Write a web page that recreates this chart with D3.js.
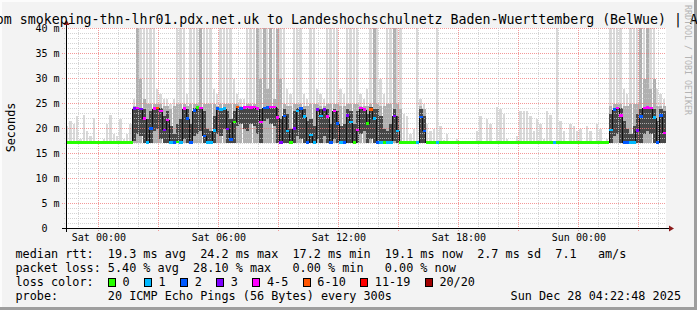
<!DOCTYPE html>
<html><head><meta charset="utf-8">
<script src="https://cdn.jsdelivr.net/npm/d3@7"></script>
<style>
html,body{margin:0;padding:0;background:#f3f3f3;}
svg{display:block;}
text{font-family:"DejaVu Sans Mono",monospace;}
</style></head><body>
<svg id="c" width="697" height="310"></svg>
<script>
// ---------------- DATA ----------------
const titleText = "from smokeping-thn-lhr01.pdx.net.uk to Landeshochschulnetz Baden-Wuerttemberg (BelWue) | AS553";
const startTime = new Date(2025, 11, 26, 22, 22, 48);
const endTime = new Date(2025, 11, 28, 4, 22, 48);
const stepSeconds = 600;
const yTicks = [0, 5, 10, 15, 20, 25, 30, 35, 40];
const minRtt = 17.1;

const median = [
17.2,17.2,17.2,17.2,17.2,17.2,17.2,17.2,17.2,17.2,
17.2,17.2,17.2,17.2,17.2,17.2,17.2,17.2,17.2,17.2,
24.0,24.1,23.9,22.0,17.2,20.0,24.0,24.1,23.5,19.7,
21.7,17.2,17.2,17.3,17.2,24.0,22.0,17.2,23.6,24.2,
24.1,18.5,17.2,17.2,19.6,24.0,23.8,24.0,19.9,17.8,
21.3,24.3,24.0,24.2,24.3,24.2,24.3,24.0,21.3,24.1,
24.2,24.3,24.3,22.2,17.2,22.5,19.5,17.2,20.0,23.5,
24.0,22.4,17.2,18.7,17.2,23.8,22.5,23.8,22.4,17.2,
23.5,21.0,17.2,17.2,22.6,21.3,17.2,19.7,24.1,23.8,
21.0,23.8,22.0,17.2,17.2,17.2,17.2,17.2,22.5,19.5,
17.2,17.2,17.2,17.2,17.2,17.2,22.3,19.5,17.2,17.2,
17.2,17.2,17.2,17.2,17.2,17.2,17.2,17.2,17.2,17.2,
17.2,17.2,17.2,17.2,17.2,17.2,17.2,17.2,17.2,17.2,
17.2,17.2,17.2,17.2,17.2,17.2,17.2,17.2,17.2,17.2,
17.2,17.2,17.2,17.2,17.2,17.2,17.2,17.2,17.2,17.2,
17.2,17.2,17.2,17.2,17.2,17.2,17.2,17.2,17.2,17.2,
17.2,17.2,17.2,19.7,23.8,24.1,22.6,17.2,17.2,17.2,
17.2,19.6,22.4,24.1,24.2,24.1,22.2,17.2,22.6,19.1
];
const lossIndex = [
0,0,0,0,0,0,0,0,0,0,
0,0,0,0,0,0,0,0,0,0,
3,4,3,4,1,2,4,5,4,3,
4,1,2,0,1,4,2,2,2,0,
4,2,1,1,1,2,1,1,3,2,
0,5,2,4,4,4,4,4,4,2,
2,4,4,4,3,2,1,0,3,1,
2,1,2,1,1,3,1,3,4,2,
4,2,1,2,3,1,0,4,4,4,
0,5,1,2,1,0,1,1,3,1,
0,0,0,0,0,1,2,2,0,0,
0,1,0,0,0,0,0,0,0,0,
0,0,0,0,0,0,0,0,0,0,
0,0,0,0,0,0,0,0,0,0,
0,0,0,0,0,0,1,0,0,0,
0,0,0,0,0,0,0,0,0,0,
0,0,0,1,2,4,4,2,2,1,
1,3,2,4,4,4,1,2,2,4
];
const smokeMax = [
20.5,21.5,21.0,22.5,18.0,22.8,19.5,18.5,22.2,17.5,
17.5,18.0,21.0,22.8,19.0,18.5,22.0,18.0,19.0,21.0,
26,45,45,45,45,45,45,28,27,26,
26,25,26,45,45,45,27,45,45,45,
45,45,45,45,28,27,45,45,45,45,
30,27,26,26,45,45,45,45,45,45,
45,45,45,45,45,45,28,27,45,45,
45,27,26,45,45,28,27,26,45,45,
45,45,28,27,45,45,45,45,27,26,
28,45,45,45,30,27,45,45,45,45,
45,23,22.5,19,20,45,26,25,21,19.5,
20,45,20.5,17.8,19,17.5,17.5,18,17.5,17.5,
17.5,17.5,17.5,19.6,22.5,17.5,22,21,17.5,24.3,
24.0,23.0,18,17.5,17.5,18.5,23.6,23.6,23.6,22.5,
19.5,22,21,18,23.5,22.8,17.5,45,21.5,19.5,
17.5,21,20.5,19.5,20,17.5,20.5,19.5,17.5,21,
20,17.5,18,45,45,45,45,28,27,45,
45,45,45,45,45,45,45,28,27,26
];
const smokeMid = [
17.2,17.2,17.2,17.2,17.2,17.2,17.2,17.2,17.2,17.2,
17.2,17.2,17.2,17.2,17.2,17.2,17.2,17.2,17.2,17.2,
24.5,45,30,26,25,25,25,25,25,24.5,
24.5,24,24.5,25,25,25,24.5,25,25,25,
45,25,25,25,25,24.5,25,25,25,25,
25,25,24.5,24.5,25,25,25,45,30,45,
28,45,26,40,30,25,24.5,24.5,25,25,
25,24.5,24.5,25,25,25,24.5,24.5,25,25,
25,25,24.5,24.5,25,25,25,25,24.5,24.5,
24.5,25,45,25,24.5,24.5,25,25,45,25,
24,17.2,17.2,17.2,17.2,17.2,24.5,24,17.2,17.2,
17.2,17.2,17.2,17.2,17.2,17.2,17.2,17.2,17.2,17.2,
17.2,17.2,17.2,17.2,17.2,17.2,17.2,17.2,17.2,17.2,
17.2,17.2,17.2,17.2,17.2,17.2,17.2,17.2,17.2,17.2,
17.2,17.2,17.2,17.2,17.2,17.2,17.2,17.2,17.2,17.2,
17.2,17.2,17.2,17.2,17.2,17.2,17.2,17.2,17.2,17.2,
17.2,17.2,17.2,24.5,25,25,25,24.5,24.5,25,
25,25,45,30,45,28,30,24.5,24.5,24.5
];
const darkLo = [
17.2,17.2,17.2,17.2,17.2,17.2,17.2,17.2,17.2,17.2,
17.2,17.2,17.2,17.2,17.2,17.2,17.2,17.2,17.2,17.2,
17.5,19.0,18.5,17.2,17.2,17.2,19.5,20.0,18.0,17.2,
17.2,17.2,17.2,17.2,17.2,18.0,17.2,17.2,18.5,19.0,
19.5,17.2,17.2,17.2,17.2,19.0,18.5,20.0,17.2,17.2,
17.2,20.5,21.0,20.0,19.5,21.0,20.5,19.0,17.2,21.5,
22.0,21.0,20.5,17.2,17.2,17.2,17.2,17.2,17.2,18.5,
18.0,17.2,17.2,17.2,17.2,18.0,17.2,18.5,17.2,17.2,
18.0,17.2,17.2,17.2,17.2,17.2,17.2,17.2,19.0,19.5,
17.2,18.0,17.2,17.2,17.2,17.5,17.5,17.5,17.5,17.2,
17.2,17.2,17.2,17.2,17.2,17.2,17.2,17.2,17.2,17.2,
17.2,17.2,17.2,17.2,17.2,17.2,17.2,17.2,17.2,17.2,
17.2,17.2,17.2,17.2,17.2,17.2,17.2,17.2,17.2,17.2,
17.2,17.2,17.2,17.2,17.2,17.2,17.2,17.2,17.2,17.2,
17.2,17.2,17.2,17.2,17.2,17.2,17.2,17.2,17.2,17.2,
17.2,17.2,17.2,17.2,17.2,17.2,17.2,17.2,17.2,17.2,
17.2,17.2,17.2,17.2,18.5,19.0,17.2,17.2,17.2,17.2,
17.2,17.2,17.2,19.0,19.5,19.0,17.2,17.2,17.2,17.2
];
const darkHi = [
17.2,17.2,17.2,17.2,17.2,17.2,17.2,17.2,17.2,17.2,
17.2,17.2,17.2,17.2,17.2,17.2,17.2,17.2,17.2,17.2,
24.2,24.3,24.2,24.0,22.0,23.5,24.3,24.4,24.2,22.5,
23.5,20.5,19.0,21.0,22.0,24.3,24.0,21.0,24.2,24.4,
24.3,23.5,20.0,19.5,22.5,24.2,24.0,24.3,23.5,22.0,
23.5,24.5,24.3,24.4,24.5,24.4,24.5,24.3,24.0,24.3,
24.4,24.5,24.5,24.2,22.0,24.0,23.0,20.0,23.5,24.2,
24.3,24.0,21.5,22.0,20.5,24.2,24.0,24.2,24.0,21.0,
24.0,23.5,20.5,21.0,24.0,23.5,21.0,23.5,24.4,24.2,
23.0,24.3,24.0,24.0,22.5,20.0,19.5,21.0,24.0,22.5,
17.2,17.2,17.2,17.2,17.2,17.2,24.0,22.5,17.2,17.2,
17.2,17.2,17.2,17.2,17.2,17.2,17.2,17.2,17.2,17.2,
17.2,17.2,17.2,17.2,17.2,17.2,17.2,17.2,17.2,17.2,
17.2,17.2,17.2,17.2,17.2,17.2,17.2,17.2,17.2,17.2,
17.2,17.2,17.2,17.2,17.2,17.2,17.2,17.2,17.2,17.2,
17.2,17.2,17.2,17.2,17.2,17.2,17.2,17.2,17.2,17.2,
17.2,17.2,17.2,23.0,24.2,24.4,24.2,21.5,20.0,19.0,
20.5,23.0,24.0,24.4,24.5,24.4,24.0,21.5,24.0,23.5
];
const lossLabels = ["0", "1", "2", "3", "4-5", "6-10", "11-19", "20/20"];
const lossColors = ["#26ff00", "#00b8ff", "#0059ff", "#7e00ff", "#ff00ff", "#ff5500", "#ff0000", "#a10000"];
const statsLines = [
  "median rtt:  19.3 ms avg  24.2 ms max  17.2 ms min  19.1 ms now  2.7 ms sd  7.1   am/s",
  "packet loss: 5.40 % avg  28.10 % max   0.00 % min   0.00 % now"
];
const lossLegendLabel = "loss color:";
const probeLine = "probe:       20 ICMP Echo Pings (56 Bytes) every 300s";
const dateLine = "Sun Dec 28 04:22:48 2025";
const yTitle = "Seconds";
const watermark = "RRDTOOL / TOBI OETIKER";

// ---------------- CHART ----------------
const W = 697, H = 310;
const PL = 66, PR = 666, PT = 28, PB = 228;
const svg = d3.select("#c");
svg.append("rect").attr("width", W).attr("height", H).attr("fill", "#f3f3f3");
svg.append("rect").attr("x", 0).attr("y", 0).attr("width", W).attr("height", 2).attr("fill", "#fcfcfc");
svg.append("rect").attr("x", 0).attr("y", 0).attr("width", 2).attr("height", H).attr("fill", "#fcfcfc");
svg.append("rect").attr("x", 0).attr("y", H - 3).attr("width", W).attr("height", 3).attr("fill", "#9e9e9e");
svg.append("rect").attr("x", W - 3).attr("y", 0).attr("width", 3).attr("height", H).attr("fill", "#9e9e9e");

const x = d3.scaleTime().domain([startTime, endTime]).range([PL, PR]);
const y = d3.scaleLinear().domain([0, 40]).range([PB + 0.5, PT + 0.5]);

svg.append("rect").attr("x", PL).attr("y", PT).attr("width", PR - PL).attr("height", PB - PT).attr("fill", "#ffffff");

const defs = svg.append("defs");
defs.append("clipPath").attr("id", "plotclip").append("rect")
  .attr("x", PL).attr("y", PT).attr("width", PR - PL).attr("height", PB - PT);

const tOf = i => new Date(startTime.getTime() + i * stepSeconds * 1000);
const cols = median.map((m, i) => ({
  i, m, loss: lossIndex[i], max: smokeMax[i], mid: smokeMid[i], dlo: darkLo[i], dhi: darkHi[i],
  x0: x(tOf(i)), x1: x(tOf(i + 1))
}));

const plot = svg.append("g").attr("clip-path", "url(#plotclip)").attr("shape-rendering", "crispEdges");
plot.selectAll("rect.light").data(cols).join("rect").attr("class", "light")
  .attr("x", d => d.x0).attr("width", d => d.x1 - d.x0 - 1)
  .attr("y", d => y(d.max)).attr("height", d => Math.max(0, y(minRtt) - y(d.max)))
  .attr("fill", "#d9d9d9");
plot.selectAll("rect.mid").data(cols.filter(d => d.mid > 17.3)).join("rect").attr("class", "mid")
  .attr("x", d => d.x0).attr("width", d => d.x1 - d.x0 - 0.5)
  .attr("y", d => y(d.mid)).attr("height", d => Math.max(0, y(minRtt) - y(d.mid)))
  .attr("fill", "#b0b0b0");
plot.selectAll("rect.dark").data(cols.filter(d => d.dhi > d.dlo)).join("rect").attr("class", "dark")
  .attr("x", d => d.x0).attr("width", d => d.x1 - d.x0)
  .attr("y", d => y(d.dhi)).attr("height", d => y(d.dlo) - y(d.dhi))
  .attr("fill", "#474747");

// grid (on top of smoke)
const grid = svg.append("g").attr("shape-rendering", "crispEdges");
const minorY = d3.range(1, 40).filter(v => v % 5 !== 0);
grid.selectAll("line.hmin").data(minorY).join("line")
  .attr("x1", PL - 2).attr("x2", PR).attr("y1", d => y(d)).attr("y2", d => y(d))
  .attr("stroke", "#c8c8c8").attr("stroke-dasharray", "1,1").attr("stroke-opacity", 0.8);
grid.selectAll("line.hmaj").data(yTicks.filter(v => v > 0)).join("line")
  .attr("x1", PL - 4).attr("x2", PR).attr("y1", d => y(d)).attr("y2", d => y(d))
  .attr("stroke", "#f08080").attr("stroke-dasharray", "1,1").attr("stroke-opacity", 0.8);
const hours = d3.timeHour.range(d3.timeHour.ceil(startTime), endTime);
grid.selectAll("line.v").data(hours).join("line")
  .attr("x1", d => Math.floor(x(d)) + 0.5).attr("x2", d => Math.floor(x(d)) + 0.5)
  .attr("y1", PT).attr("y2", d => d.getHours() % 3 === 0 ? PB + 3 : PB + 2)
  .attr("stroke", d => d.getHours() % 3 === 0 ? "#f08080" : "#c8c8c8")
  .attr("stroke-dasharray", "1,1").attr("stroke-opacity", 0.8);

// median line
const med = svg.append("g").attr("clip-path", "url(#plotclip)").attr("shape-rendering", "crispEdges");
med.selectAll("line.conn").data(cols.slice(1)).join("line")
  .attr("x1", d => Math.floor(d.x0) + 0.5).attr("x2", d => Math.floor(d.x0) + 0.5)
  .attr("y1", d => y(median[d.i - 1])).attr("y2", d => y(d.m))
  .attr("stroke", "#111").attr("stroke-width", 1.5);
med.selectAll("rect.med").data(cols).join("rect")
  .attr("x", d => d.x0).attr("width", d => d.x1 - d.x0)
  .attr("y", d => y(d.m) - 1.25).attr("height", 2.5)
  .attr("fill", d => lossColors[d.loss]);

// axes lines + arrows
svg.append("line").attr("x1", PL - 4).attr("x2", PR + 3).attr("y1", PB + 0.5).attr("y2", PB + 0.5)
  .attr("stroke", "#000").attr("shape-rendering", "crispEdges");
svg.append("path").attr("d", `M${PR + 3},${PB - 2.5}L${PR + 8},${PB + 0.5}L${PR + 3},${PB + 3.5}Z`).attr("fill", "#8b1a1a");
svg.append("line").attr("x1", PL + 0.5).attr("x2", PL + 0.5).attr("y1", PB + 4).attr("y2", PT - 3)
  .attr("stroke", "#000").attr("shape-rendering", "crispEdges");
svg.append("path").attr("d", `M${PL - 2.5},${PT - 3}L${PL + 0.5},${PT - 8}L${PL + 3.5},${PT - 3}Z`).attr("fill", "#8b1a1a");

// y axis labels
const yAxis = d3.axisLeft(y).tickValues(yTicks).tickSize(0).tickPadding(0)
  .tickFormat(d => d === 0 ? "0  " : d + " m");
const gy = svg.append("g").attr("transform", `translate(${PL},0)`).call(yAxis);
gy.select(".domain").remove();
gy.selectAll("text").attr("x", -6.5).attr("dy", "0.34em").attr("xml:space", "preserve")
  .style("font-family", "'DejaVu Sans Mono',monospace").style("font-size", "10px").attr("fill", "#000");

// x axis labels
const fmt = d3.timeFormat("%a %H:%M");
const xAxis = d3.axisBottom(x).tickValues(d3.timeHour.every(6).range(startTime, endTime)).tickSize(0).tickFormat(fmt);
const gx = svg.append("g").attr("transform", `translate(0,${PB})`).call(xAxis);
gx.select(".domain").remove();
gx.selectAll("text").attr("y", 12.5).attr("dy", 0)
  .style("font-family", "'DejaVu Sans Mono',monospace").style("font-size", "10px").attr("fill", "#000");

// title
svg.append("text").attr("x", -20.1).attr("y", 23.5).attr("font-size", 13.25).attr("fill", "#000")
  .text(titleText);

// y title
svg.append("text").attr("transform", "translate(15,127.5) rotate(-90)").attr("text-anchor", "middle")
  .attr("font-size", 11.8).attr("fill", "#000").text(yTitle);

// watermark
svg.append("text").attr("transform", "translate(684.5,5) rotate(90)").attr("font-size", 8.3)
  .attr("fill", "#b4b4b4").text(watermark);

// legend
const LX = 15.5, CW = 7.12;
statsLines.forEach((s, k) => {
  svg.append("text").attr("x", LX).attr("y", 258 + k * 14).attr("font-size", 11.8)
    .attr("xml:space", "preserve").attr("fill", "#000").text(s);
});
svg.append("text").attr("x", LX).attr("y", 286).attr("font-size", 11.8).attr("fill", "#000").text(lossLegendLabel);
let bx = 108.5;
lossLabels.forEach((lab, k) => {
  svg.append("rect").attr("x", bx).attr("y", 278.5).attr("width", 7).attr("height", 8)
    .attr("fill", lossColors[k]).attr("stroke", "#000").attr("shape-rendering", "crispEdges");
  svg.append("text").attr("x", bx + 14).attr("y", 286).attr("font-size", 11.8).attr("fill", "#000").text(lab);
  bx = bx + 14 + lab.length * CW + 15;
});
svg.append("text").attr("x", LX).attr("y", 300).attr("font-size", 11.8)
  .attr("xml:space", "preserve").attr("fill", "#000").text(probeLine);
svg.append("text").attr("x", 681).attr("y", 300).attr("font-size", 11.8).attr("text-anchor", "end")
  .attr("fill", "#000").text(dateLine);
</script>
</body></html>
